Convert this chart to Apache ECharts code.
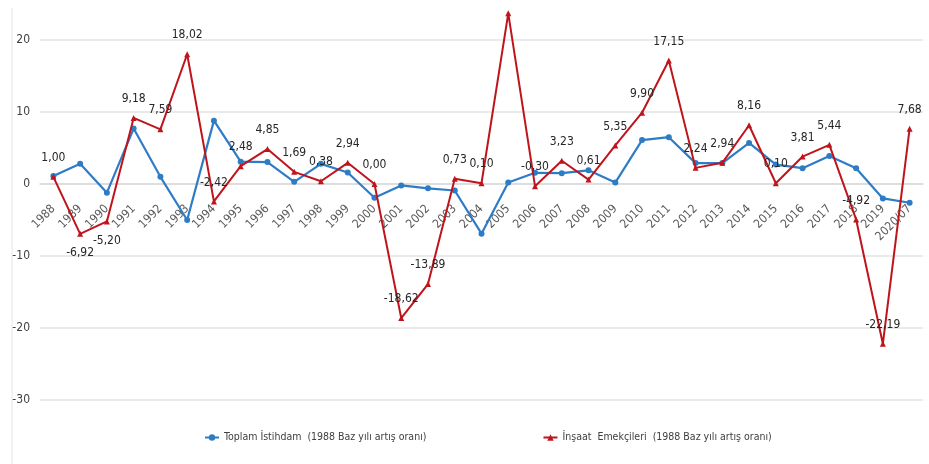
<!DOCTYPE html>
<html>
<head>
<meta charset="utf-8">
<script src="https://cdn.jsdelivr.net/npm/echarts@6/dist/echarts.min.js"></script>
<style>
html,body{margin:0;padding:0;background:#fff;}
#c{width:929px;height:464px;}
</style>
</head>
<body>
<div id="c"></div>
<script>
const categories = ['1988','1989','1990','1991','1992','1993','1994','1995','1996','1997','1998','1999','2000','2001','2002','2003','2004','2005','2006','2007','2008','2009','2010','2011','2012','2013','2014','2015','2016','2017','2018','2019','2020/07'];
const toplamIstihdam = [1.1,2.8,-1.2,7.7,1.0,-5.0,8.8,3.1,3.05,0.3,2.8,1.6,-1.9,-0.2,-0.6,-0.9,-6.9,0.2,1.55,1.5,1.9,0.2,6.1,6.5,2.9,2.9,5.7,2.7,2.2,3.9,2.2,-2.0,-2.6];
const insaatEmekcileri = [1.00,-6.92,-5.20,9.18,7.59,18.02,-2.42,2.48,4.85,1.69,0.38,2.94,0.00,-18.62,-13.89,0.73,0.10,23.7,-0.30,3.23,0.61,5.35,9.90,17.15,2.24,2.94,8.16,0.10,3.81,5.44,-4.92,-22.19,7.68];
const unlabeled = ['2005'];
const labelBelow = ['1989','1990'];
const yMin = -30, yMax = 25, yStep = 10;
const seriesNames = ['Toplam İstihdam  (1988 Baz yılı artış oranı)','İnşaat  Emekçileri  (1988 Baz yılı artış oranı)'];

const FONT = "'Liberation Sans Narrow','DejaVu Sans Condensed','Roboto',sans-serif";

const redData = insaatEmekcileri.map((v,i)=>{
  const c = categories[i];
  const d = {value:v};
  if (unlabeled.includes(c)) d.label = {show:false};
  else if (labelBelow.includes(c)) d.label = {position:'bottom'};
  return d;
});

// split lines: -30..20 visible, top edge (25) hidden
const nLines = Math.floor((yMax - yMin) / yStep) + 2;
const splitColors = [];
for (let i = 0; i < nLines; i++) splitColors.push(i === nLines - 1 ? 'rgba(0,0,0,0)' : '#e3e3e3');

const chart = echarts.init(document.getElementById('c'));
chart.setOption({
  animation:false,
  backgroundColor:'#fff',
  grid:{left:40, right:6, top:4, bottom:64, containLabel:false, outerBoundsMode:'none'},
  graphic:[{type:'line', shape:{x1:12, y1:8, x2:12, y2:464}, style:{stroke:'#e6e6e6', lineWidth:1}, silent:true}],
  legend:{
    bottom:16, left:199, itemGap:116, itemWidth:14, itemHeight:8,
    textStyle:{fontFamily:FONT, fontSize:10.5, color:'#404040'},
    data:seriesNames
  },
  xAxis:{
    type:'category', data:categories, boundaryGap:true, position:'bottom',
    axisLine:{onZero:false, lineStyle:{color:'#d9d9d9', width:1.5}},
    axisTick:{show:false},
    axisLabel:{rotate:45, interval:0, fontFamily:FONT, fontSize:12, color:'#595959', margin:23}
  },
  yAxis:{
    type:'value', min:yMin, max:yMax, interval:yStep,
    axisLine:{show:false}, axisTick:{show:false},
    splitLine:{lineStyle:{color:splitColors, width:1.5}},
    axisLabel:{fontFamily:FONT, fontSize:12, color:'#404040', margin:10,
      formatter:v=> v === yMax ? '' : String(v)}
  },
  series:[
    {
      name:seriesNames[0],
      type:'line', data:toplamIstihdam,
      symbol:'circle', symbolSize:6,
      itemStyle:{color:'#2e7cc6'},
      lineStyle:{color:'#2e7cc6', width:2.2},
      z:2
    },
    {
      name:seriesNames[1],
      type:'line', data:redData,
      symbol:'triangle', symbolSize:6,
      itemStyle:{color:'#c0141c'},
      lineStyle:{color:'#c0141c', width:2},
      label:{show:true, position:'top', distance:10, fontFamily:FONT, fontSize:12, color:'#262626',
        formatter:p=>p.value.toFixed(2).replace('.',',')},
      z:3
    }
  ]
});
// place the category axis (line + labels) on the zero line of the value axis
const zeroY = chart.convertToPixel({yAxisIndex:0}, 0);
const bottomY = chart.convertToPixel({yAxisIndex:0}, yMin);
chart.setOption({xAxis:{offset: -(bottomY - zeroY)}});
</script>
</body>
</html>
